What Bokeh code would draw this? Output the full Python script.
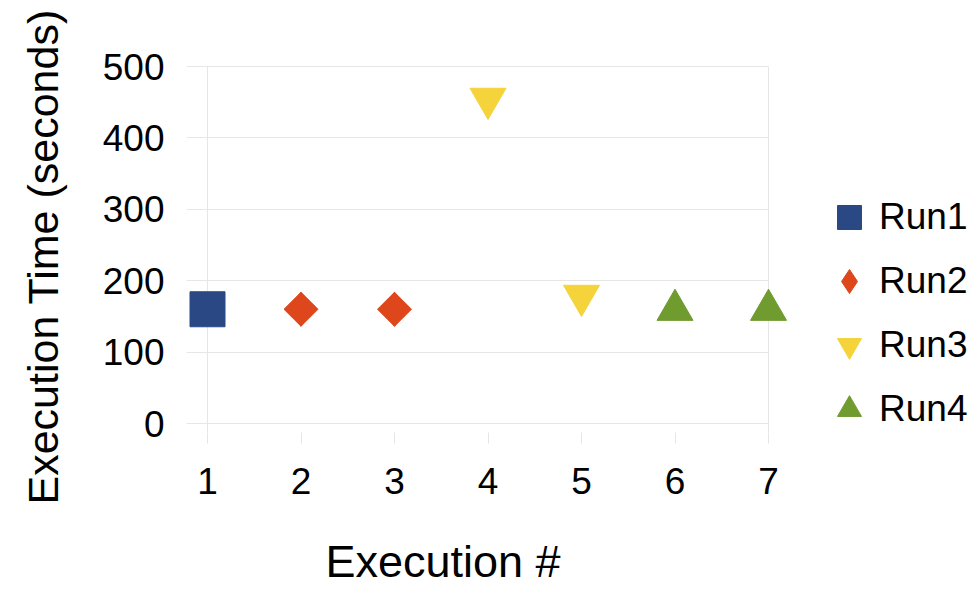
import math
from bokeh.plotting import figure
from bokeh.models import FixedTicker, Legend, LegendItem, Title
from bokeh.embed import file_html
from bokeh.resources import INLINE

# ---- data ----
run1_x = [1]
run1_y = [160]
run2_x = [2, 3]
run2_y = [160, 160]
run3_x = [4, 5]
run3_y = [455, 179]
run4_x = [6, 7]
run4_y = [159, 159]
x_ticks = [1, 2, 3, 4, 5, 6, 7]
y_ticks = [0, 100, 200, 300, 400, 500]

FONT = "Liberation Sans"
GRID = "#e6e6e6"
C1, C2, C3, C4 = "#2a4984", "#de461b", "#f4d33b", "#6f9b2f"

# ---- layout geometry (pixels) ----
W, H = 975, 593
left, top, bottom, right = 186, 64, 432, 975
px_per_x = (768 - 207) / 6.0
px_per_y = (423 - 66) / 500.0
x_start = 1 - (207 - left) / px_per_x
x_end = 7 + (right - 768) / px_per_x
y_start = 0 - (bottom - 423) / px_per_y
y_end = 500 + (66 - top) / px_per_y

p = figure(width=W, height=H, output_backend="svg", toolbar_location=None,
           x_range=(x_start, x_end), y_range=(y_start, y_end),
           min_border_left=left, min_border_right=W - right,
           min_border_top=top, min_border_bottom=H - bottom)
p.outline_line_color = None
p.background_fill_color = "white"
p.border_fill_color = "white"

# grids
p.ygrid.ticker = FixedTicker(ticks=y_ticks)
p.ygrid.grid_line_color = GRID
p.ygrid.cross_bounds = (x_start, 7)
p.xgrid.ticker = FixedTicker(ticks=[1, 7])
p.xgrid.grid_line_color = GRID
p.xgrid.cross_bounds = (y_start, 500)

# x axis
xa = p.xaxis[0]
xa.ticker = FixedTicker(ticks=x_ticks)
xa.axis_line_color = None
xa.major_tick_in = 0
xa.major_tick_out = 443 - bottom
xa.major_tick_line_color = GRID
xa.minor_tick_line_color = None
xa.major_label_text_font = FONT
xa.major_label_text_font_size = "37px"
xa.major_label_text_color = "black"
xa.major_label_standoff = 24
# blank axis label used only as spacing before the title
xa.axis_label = " "
xa.axis_label_text_font_size = "1px"
xa.axis_label_standoff = 33

# y axis
ya = p.yaxis[0]
ya.ticker = FixedTicker(ticks=y_ticks)
ya.axis_line_color = None
ya.major_tick_line_color = None
ya.minor_tick_line_color = None
ya.major_label_text_font = FONT
ya.major_label_text_font_size = "37px"
ya.major_label_text_color = "black"
ya.major_label_standoff = 16
ya.axis_label = " "
ya.axis_label_text_font_size = "1px"
ya.axis_label_standoff = 29

# ---- series ----
r1 = p.scatter(run1_x, run1_y, marker="square", size=35, color=C1)
# key glyph for the legend (hidden under the rotated squares)
r2_key = p.scatter(run2_x, run2_y, marker="diamond", size=34, color=C2)
r2 = p.scatter(run2_x, run2_y, marker="square", size=24, angle=math.pi / 4, color=C2)
r3 = p.scatter(run3_x, run3_y, marker="inverted_triangle", size=36, color=C3)
r4 = p.scatter(run4_x, run4_y, marker="triangle", size=36, color=C4)

legend = Legend(items=[LegendItem(label="Run1", renderers=[r1]),
                       LegendItem(label="Run2", renderers=[r2_key]),
                       LegendItem(label="Run3", renderers=[r3]),
                       LegendItem(label="Run4", renderers=[r4])],
                location=(819 - left, bottom - 439),
                glyph_width=60, glyph_height=60, spacing=4,
                label_standoff=-4, padding=0, margin=0,
                border_line_color=None, background_fill_alpha=0,
                label_text_font=FONT, label_text_font_size="37px",
                label_text_color="black")
p.add_layout(legend, "center")

# axis titles
p.add_layout(Title(text="Execution #", text_font=FONT, text_font_size="45px",
                   text_font_style="normal", text_color="black",
                   align="left", offset=325 - left, standoff=0),
             "below")
p.add_layout(Title(text="Execution Time (seconds)", text_font=FONT,
                   text_font_size="43px", text_font_style="normal",
                   text_color="black", align="left",
                   offset=bottom - 504, standoff=0),
             "left")

open("out.html", "w").write(file_html(p, INLINE))
